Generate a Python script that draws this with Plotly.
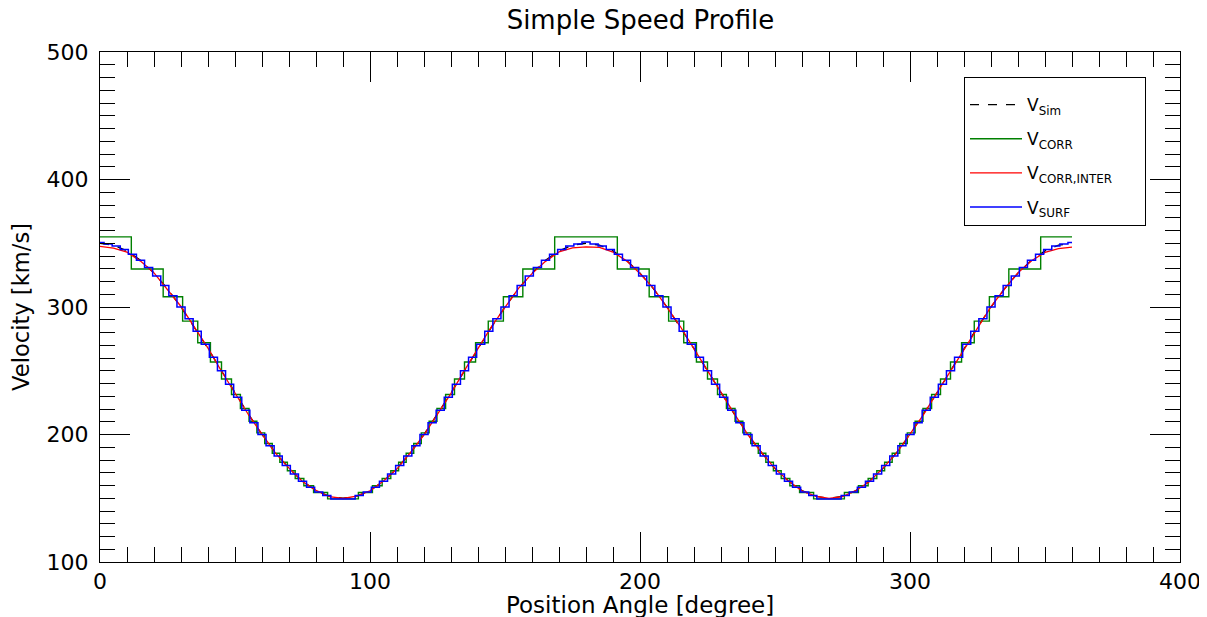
import plotly.graph_objects as go

# ---- data ----
sim_angle = [0, 5, 10, 15, 20, 25, 30, 35, 40, 45, 50, 55, 60, 65, 70, 75, 80, 85, 90,
             95, 100, 105, 110, 115, 120, 125, 130, 135, 140, 145, 150, 155, 160, 165, 170, 175, 180,
             185, 190, 195, 200, 205, 210, 215, 220, 225, 230, 235, 240, 245, 250, 255, 260, 265, 270,
             275, 280, 285, 290, 295, 300, 305, 310, 315, 320, 325, 330, 335, 340, 345, 350, 355, 360]
sim_speed = [350.0, 348.5, 344.0, 336.6, 326.6, 314.3, 300.0, 284.2, 267.4, 250.0, 232.6, 215.8, 200.0,
             185.7, 173.4, 163.4, 156.0, 151.5, 150.0,
             151.5, 156.0, 163.4, 173.4, 185.7, 200.0, 215.8, 232.6, 250.0, 267.4, 284.2, 300.0,
             314.3, 326.6, 336.6, 344.0, 348.5, 350.0,
             348.5, 344.0, 336.6, 326.6, 314.3, 300.0, 284.2, 267.4, 250.0, 232.6, 215.8, 200.0,
             185.7, 173.4, 163.4, 156.0, 151.5, 150.0,
             151.5, 156.0, 163.4, 173.4, 185.7, 200.0, 215.8, 232.6, 250.0, 267.4, 284.2, 300.0,
             314.3, 326.6, 336.6, 344.0, 348.5, 350.0]

corr_angle = [0, 11.6, 23.4, 30.6, 36.2, 40.9, 45.0, 48.7, 52.0, 55.2, 58.1, 61.0, 63.8, 66.6, 69.4,
              72.3, 75.5, 79.1, 84.3,
              95.7, 100.9, 104.5, 107.7, 110.6, 113.4, 116.2, 119.0, 121.9, 124.8, 128.0, 131.3,
              135.0, 139.1, 143.8, 149.4, 156.6, 168.4,
              191.6, 203.4, 210.6, 216.2, 220.9, 225.0, 228.7, 232.0, 235.2, 238.1, 241.0, 243.8,
              246.6, 249.4, 252.3, 255.5, 259.1, 264.3,
              275.7, 280.9, 284.5, 287.7, 290.6, 293.4, 296.2, 299.0, 301.9, 304.8, 308.0, 311.3,
              315.0, 319.1, 323.8, 329.4, 336.6, 348.4, 360.0]
corr_speed = [355.0, 329.8, 308.0, 288.9, 272.0, 256.9, 243.5, 231.4, 220.4, 210.4, 201.3, 193.0, 185.3,
              178.2, 171.6, 165.5, 159.8, 154.5, 149.5,
              154.5, 159.8, 165.5, 171.6, 178.2, 185.3, 193.0, 201.3, 210.4, 220.4, 231.4, 243.5,
              256.9, 272.0, 288.9, 308.0, 329.8, 355.0,
              329.8, 308.0, 288.9, 272.0, 256.9, 243.5, 231.4, 220.4, 210.4, 201.3, 193.0, 185.3,
              178.2, 171.6, 165.5, 159.8, 154.5, 149.5,
              154.5, 159.8, 165.5, 171.6, 178.2, 185.3, 193.0, 201.3, 210.4, 220.4, 231.4, 243.5,
              256.9, 272.0, 288.9, 308.0, 329.8, 355.0, 355.0]

inter_angle = sim_angle
inter_speed = [347.5, 346.2, 343.0, 336.0, 326.8, 314.0, 300.4, 284.0, 267.8, 249.6, 232.9, 215.5, 200.3,
               185.4, 173.6, 163.1, 156.2, 151.2, 149.8,
               151.7, 155.8, 163.6, 173.1, 185.9, 199.7, 216.1, 232.3, 250.3, 267.1, 284.6, 299.7,
               314.6, 326.2, 335.8, 343.2, 346.4, 347.2,
               346.8, 343.1, 336.2, 326.3, 314.6, 299.8, 284.5, 267.1, 250.2, 232.4, 216.0, 199.8,
               185.9, 173.2, 163.6, 155.8, 151.7, 149.8,
               151.3, 156.1, 163.2, 173.6, 185.4, 200.3, 215.6, 232.8, 249.7, 267.6, 284.0, 300.3,
               314.1, 326.9, 336.3, 342.8, 345.8, 347.0]

surf_angle = [0, 3, 6, 9, 12, 15, 18, 21, 24, 27, 30, 33, 36, 39, 42, 45, 48, 51, 54, 57, 60,
              63, 66, 69, 72, 75, 78, 81, 84, 87, 90,
              93, 96, 99, 102, 105, 108, 111, 114, 117, 120, 123, 126, 129, 132, 135, 138, 141, 144,
              147, 150, 153, 156, 159, 162, 165, 168, 171, 174, 177, 180,
              183, 186, 189, 192, 195, 198, 201, 204, 207, 210, 213, 216, 219, 222, 225, 228, 231, 234,
              237, 240, 243, 246, 249, 252, 255, 258, 261, 264, 267, 270,
              273, 276, 279, 282, 285, 288, 291, 294, 297, 300, 303, 306, 309, 312, 315, 318, 321, 324,
              327, 330, 333, 336, 339, 342, 345, 348, 351, 354, 357, 360]
surf_speed = [350.5, 349.5, 347.8, 345.1, 341.4, 336.6, 330.9, 324.3, 316.9, 308.8, 300.0, 290.7, 280.9,
              270.8, 260.5, 250.0, 239.5, 229.2, 219.1, 209.3, 200.0, 191.2, 183.1, 175.7, 169.1, 163.4,
              158.6, 154.9, 152.2, 149.5, 149.5,
              149.5, 152.2, 154.9, 158.6, 163.4, 169.1, 175.7, 183.1, 191.2, 200.0, 209.3, 219.1, 229.2,
              239.5, 250.0, 260.5, 270.8, 280.9, 290.7, 300.0, 308.8, 316.9, 324.3, 330.9, 336.6, 341.4,
              345.1, 347.8, 349.5, 351.0,
              349.5, 347.8, 345.1, 341.4, 336.6, 330.9, 324.3, 316.9, 308.8, 300.0, 290.7, 280.9, 270.8,
              260.5, 250.0, 239.5, 229.2, 219.1, 209.3, 200.0, 191.2, 183.1, 175.7, 169.1, 163.4, 158.6,
              154.9, 152.2, 149.5, 149.5,
              149.5, 152.2, 154.9, 158.6, 163.4, 169.1, 175.7, 183.1, 191.2, 200.0, 209.3, 219.1, 229.2,
              239.5, 250.0, 260.5, 270.8, 280.9, 290.7, 300.0, 308.8, 316.9, 324.3, 330.9, 336.6, 341.4,
              345.1, 347.8, 349.5, 350.5]

x_ticks = [0, 100, 200, 300, 400]
y_ticks = [100, 200, 300, 400, 500]

FONT = "DejaVu Sans"
PAD = "&nbsp;" * 5

fig = go.Figure()
fig.add_trace(go.Scatter(x=sim_angle, y=sim_speed, mode="lines", name="V<sub>Sim</sub>",
                         legendgroup="a", line=dict(color="black", width=1.3, dash="dash")))
fig.add_trace(go.Scatter(x=corr_angle, y=corr_speed, mode="lines", name="V<sub>CORR</sub>",
                         legendgroup="b", line=dict(color="#008000", width=1.4, shape="hv")))
fig.add_trace(go.Scatter(x=inter_angle, y=inter_speed, mode="lines",
                         name="V<sub>CORR,INTER</sub>" + PAD,
                         legendgroup="c", line=dict(color="red", width=1.3)))
fig.add_trace(go.Scatter(x=surf_angle, y=surf_speed, mode="lines", name="V<sub>SURF</sub>",
                         legendgroup="d", line=dict(color="blue", width=1.5, shape="hvh")))

axis_common = dict(
    showline=True, linecolor="black", linewidth=1, mirror="allticks",
    ticks="inside", ticklen=30, tickcolor="black", tickwidth=1,
    showgrid=False, zeroline=False, automargin=False,
    tickfont=dict(family=FONT, size=22, color="black"),
    minor=dict(ticks="inside", ticklen=15, tickcolor="black", tickwidth=1, dtick=10, showgrid=False),
)

fig.update_xaxes(range=[0, 400], tickvals=x_ticks, ticktext=[str(v) for v in x_ticks], **axis_common)
fig.update_yaxes(range=[100, 500], tickvals=y_ticks, ticktext=[str(v) for v in y_ticks],
                 ticklabelstandoff=6,
                 title=dict(text="Velocity [km/s]", font=dict(family=FONT, size=22.6, color="black"),
                            standoff=12),
                 **axis_common)

# x-axis title placed as an annotation so it sits right under the tick labels
fig.add_annotation(text="Position Angle [degree]", xref="paper", yref="paper", x=0.5, y=0,
                   xanchor="center", yanchor="top", yshift=-28, showarrow=False,
                   font=dict(family=FONT, size=23, color="black"))

fig.update_layout(
    width=1207, height=617,
    margin=dict(l=92, r=35, t=44, b=63),
    paper_bgcolor="white", plot_bgcolor="white",
    title=dict(text="Simple Speed Profile", x=0.524, xanchor="center", y=0.98, yanchor="middle",
               font=dict(family=FONT, size=26, color="black")),
    font=dict(family=FONT, color="black"),
    legend=dict(x=0.8, y=0.951, xanchor="left", yanchor="top",
                bgcolor="white", bordercolor="black", borderwidth=1,
                font=dict(family=FONT, size=17, color="black"),
                title=dict(text=" ", font=dict(size=7)),
                itemwidth=52, tracegroupgap=9),
    showlegend=True,
)

fig.write_html("out.html")
